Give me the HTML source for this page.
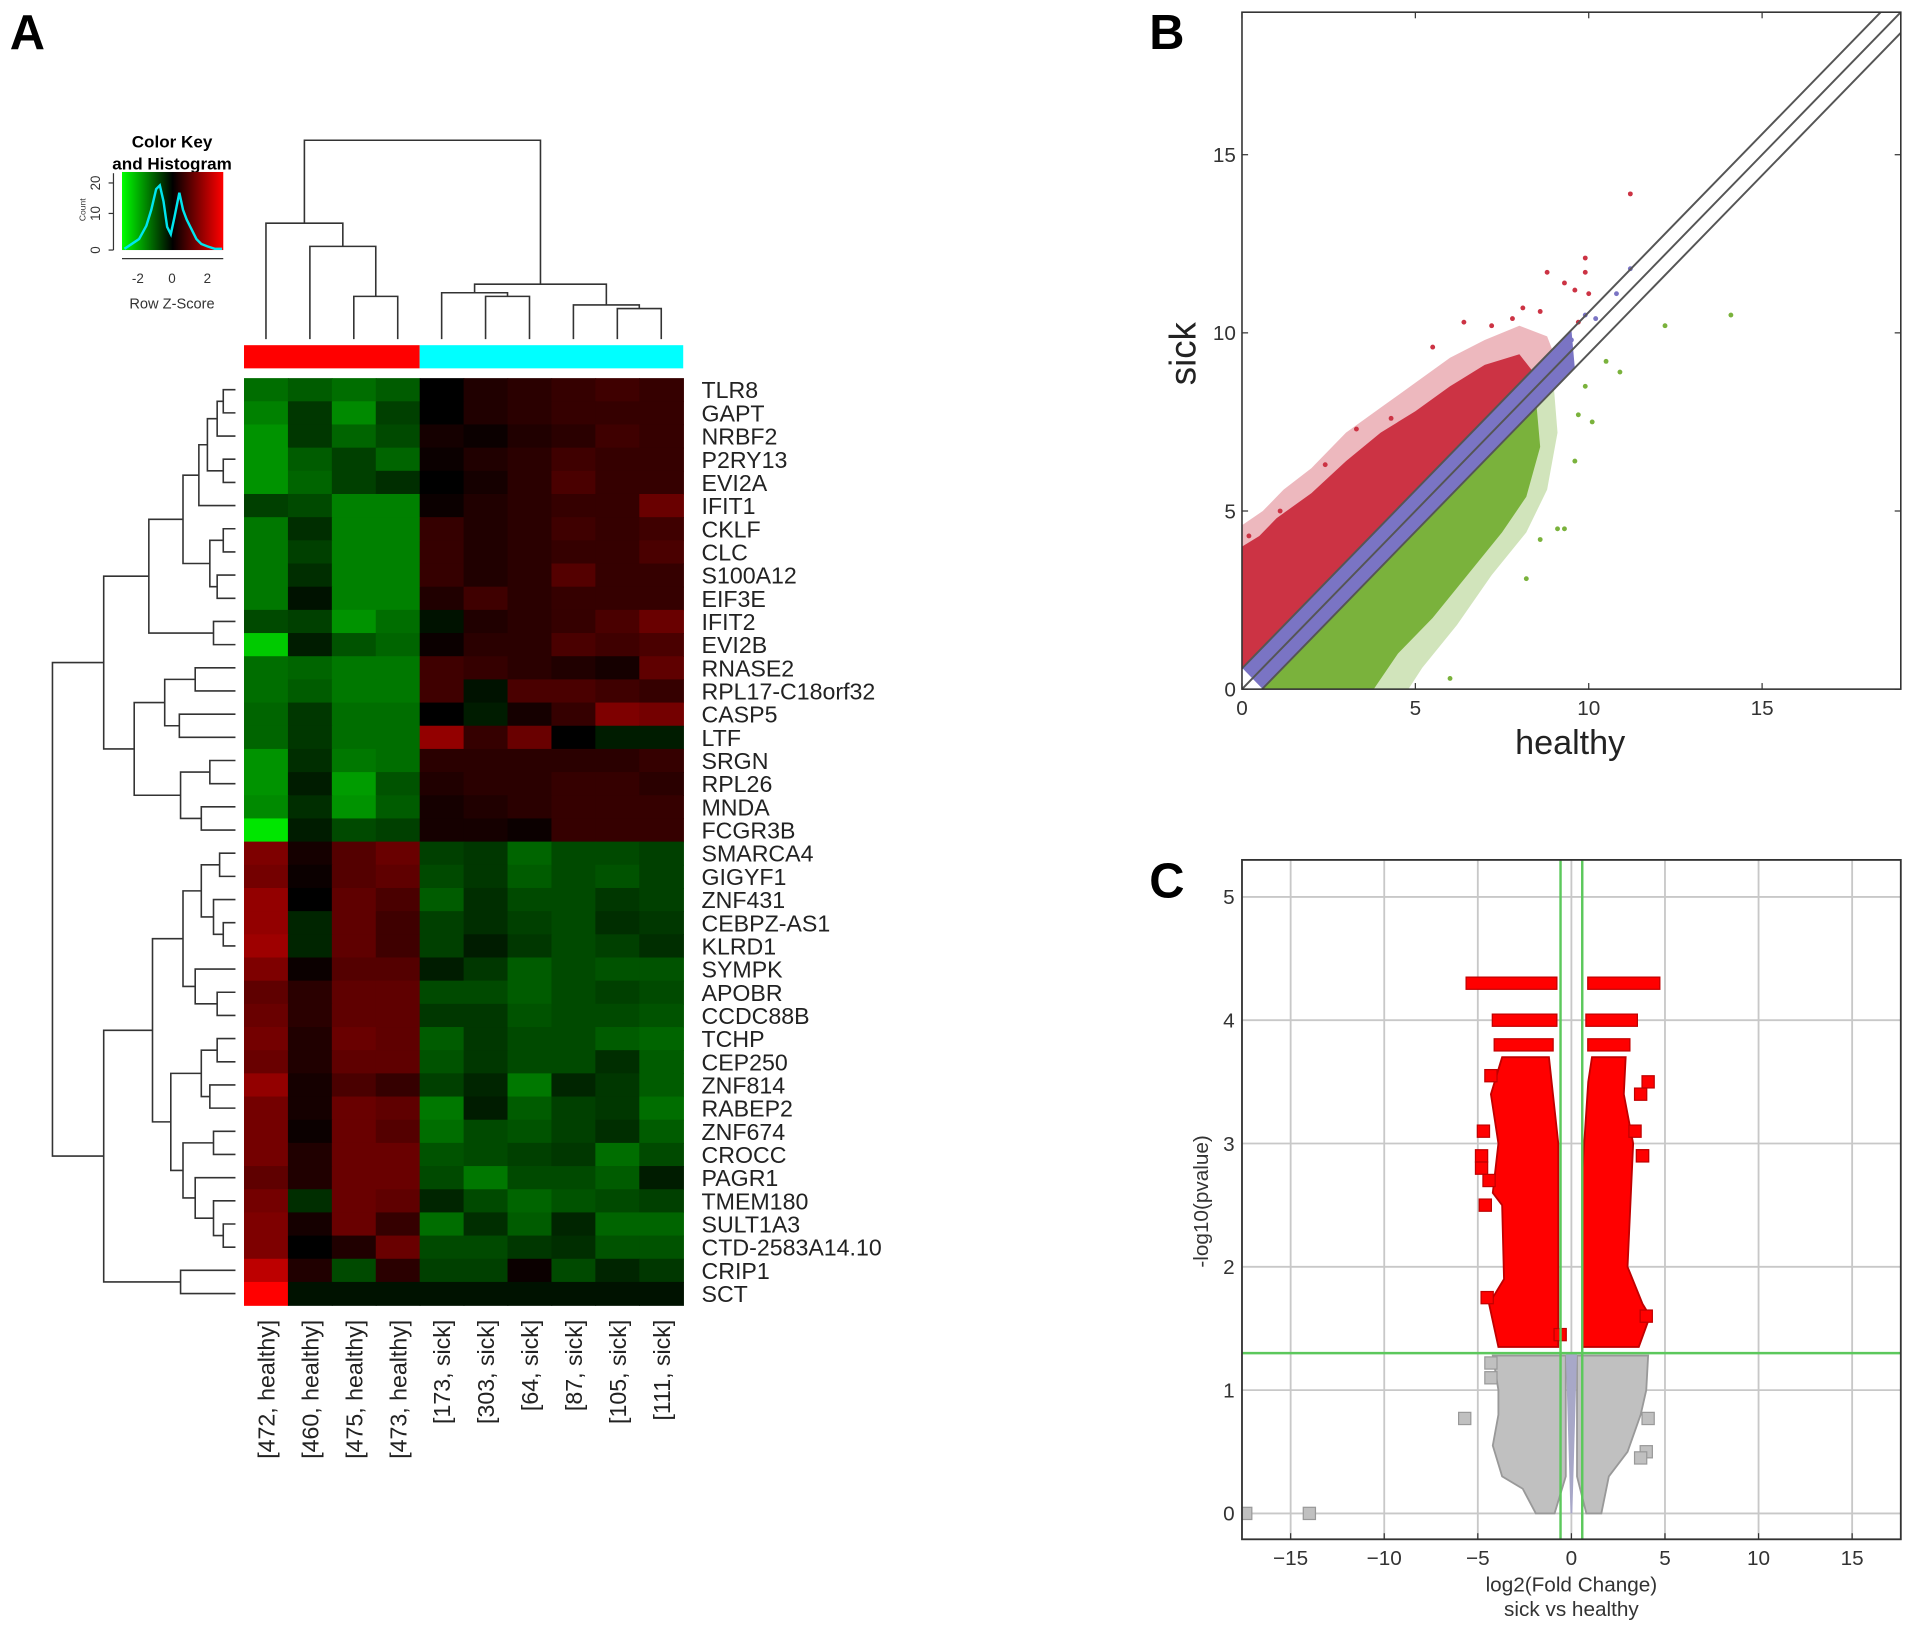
<!DOCTYPE html>
<html><head><meta charset="utf-8">
<style>
html,body{margin:0;padding:0;background:#fff;}
svg{display:block;font-family:"Liberation Sans",sans-serif;}
</style></head>
<body>
<svg id="fig" width="1913" height="1632" viewBox="0 0 1568 1338" preserveAspectRatio="none" xmlns="http://www.w3.org/2000/svg">
<defs>
<linearGradient id="keyGrad" x1="0" x2="1" y1="0" y2="0">
<stop offset="0" stop-color="#00ff00"/><stop offset="0.5" stop-color="#000000"/><stop offset="1" stop-color="#ff0000"/>
</linearGradient>
</defs>
<text x="8" y="40" font-size="40" font-weight="bold">A</text>
<text x="942" y="40" font-size="40" font-weight="bold">B</text>
<text x="942" y="736" font-size="40" font-weight="bold">C</text>

<g id="colorKey">
<text x="141" y="121" font-size="14" font-weight="bold" text-anchor="middle">Color Key</text>
<text x="141" y="139" font-size="14" font-weight="bold" text-anchor="middle">and Histogram</text>
<rect x="100" y="141" width="83" height="64" fill="url(#keyGrad)"/>
<polyline fill="none" stroke="#00e5ee" stroke-width="2" points="102,204 108,200 114,196 120,185 124,172 128,155 131,152 134,165 137,186 140,192 143,178 147,158 150,172 153,180 157,188 161,196 165,200 170,202 176,204 182,204"/>
<line x1="93" y1="142" x2="93" y2="205" stroke="#333" stroke-width="1"/>
<g font-size="11" fill="#333" text-anchor="middle">
<line x1="89" y1="205" x2="93" y2="205" stroke="#333"/><text transform="translate(82,205) rotate(-90)">0</text>
<line x1="89" y1="175" x2="93" y2="175" stroke="#333"/><text transform="translate(82,175) rotate(-90)">10</text>
<line x1="89" y1="150" x2="93" y2="150" stroke="#333"/><text transform="translate(82,150) rotate(-90)">20</text>
<text transform="translate(70,172) rotate(-90)" font-size="7">Count</text>
<line x1="100" y1="212" x2="183" y2="212" stroke="#333"/>
<text x="113" y="232">-2</text><text x="141" y="232">0</text><text x="170" y="232">2</text>
<text x="141" y="253" font-size="12">Row Z-Score</text>
</g>
</g>

<g id="colBar">
<rect x="200" y="283" width="144" height="19" fill="#ff0000"/>
<rect x="344" y="283" width="216" height="19" fill="#00ffff"/>
</g>
<g id="colDend" stroke="#333" stroke-width="1.3" fill="none"></g>
<g id="rowDend" stroke="#333" stroke-width="1.3" fill="none"></g>
<g id="heat"></g>
<g id="rowLabels" font-size="19" fill="#222"></g>
<g id="colLabels" font-size="19" fill="#222"></g>

<g id="panelB"></g>
<g id="panelC"></g>
</svg>

<script>
// ===== Heatmap data =====
const genes = ["TLR8","GAPT","NRBF2","P2RY13","EVI2A","IFIT1","CKLF","CLC","S100A12","EIF3E","IFIT2","EVI2B","RNASE2","RPL17-C18orf32","CASP5","LTF","SRGN","RPL26","MNDA","FCGR3B","SMARCA4","GIGYF1","ZNF431","CEBPZ-AS1","KLRD1","SYMPK","APOBR","CCDC88B","TCHP","CEP250","ZNF814","RABEP2","ZNF674","CROCC","PAGR1","TMEM180","SULT1A3","CTD-2583A14.10","CRIP1","SCT"];
const samples = ["[472, healthy]","[460, healthy]","[475, healthy]","[473, healthy]","[173, sick]","[303, sick]","[64, sick]","[87, sick]","[105, sick]","[111, sick]"];
const zscores = [
[-1.2,-1.0,-1.2,-1.0,0,0.3,0.4,0.5,0.6,0.5],
[-1.4,-0.6,-1.5,-0.7,0,0.3,0.4,0.5,0.5,0.5],
[-1.6,-0.6,-1.1,-0.8,0.2,0.1,0.3,0.4,0.6,0.5],
[-1.6,-1.0,-0.7,-1.1,0.1,0.3,0.4,0.6,0.5,0.5],
[-1.6,-1.1,-0.7,-0.5,0,0.2,0.4,0.7,0.5,0.5],
[-0.7,-0.8,-1.4,-1.4,0.1,0.3,0.4,0.5,0.5,1.0],
[-1.3,-0.5,-1.4,-1.4,0.5,0.3,0.4,0.6,0.5,0.6],
[-1.3,-0.7,-1.4,-1.4,0.5,0.3,0.4,0.5,0.5,0.7],
[-1.3,-0.5,-1.4,-1.4,0.5,0.3,0.4,0.8,0.5,0.5],
[-1.3,-0.2,-1.4,-1.4,0.3,0.6,0.4,0.5,0.5,0.5],
[-0.8,-0.7,-1.6,-1.2,-0.2,0.3,0.4,0.5,0.7,1.0],
[-2.2,-0.3,-0.9,-1.1,0.1,0.4,0.4,0.7,0.6,0.7],
[-1.2,-1.1,-1.3,-1.3,0.6,0.5,0.4,0.3,0.2,0.9],
[-1.2,-1.0,-1.3,-1.3,0.6,-0.2,0.7,0.7,0.6,0.5],
[-1.1,-0.6,-1.2,-1.2,0,-0.3,0.2,0.5,1.2,1.1],
[-1.1,-0.6,-1.2,-1.2,1.4,0.5,1.0,0,-0.3,-0.3],
[-1.6,-0.5,-1.3,-1.2,0.4,0.4,0.4,0.4,0.4,0.5],
[-1.6,-0.3,-1.7,-0.9,0.3,0.4,0.4,0.5,0.5,0.4],
[-1.5,-0.5,-1.6,-1.0,0.2,0.3,0.4,0.5,0.5,0.5],
[-2.5,-0.3,-0.8,-0.7,0.2,0.2,0.1,0.5,0.5,0.5],
[1.2,0.2,0.8,1.0,-0.7,-0.6,-1.1,-0.8,-0.8,-0.7],
[1.1,0.1,0.8,0.9,-0.8,-0.6,-1.0,-0.8,-0.9,-0.7],
[1.4,0.0,0.9,0.7,-1.0,-0.5,-0.8,-0.8,-0.6,-0.7],
[1.4,-0.4,0.9,0.6,-0.7,-0.5,-0.7,-0.8,-0.5,-0.6],
[1.5,-0.4,0.9,0.6,-0.7,-0.3,-0.6,-0.8,-0.7,-0.5],
[1.2,0.1,0.8,0.8,-0.3,-0.6,-1.0,-0.8,-0.9,-0.9],
[0.9,0.4,0.9,0.9,-0.8,-0.8,-1.0,-0.8,-0.7,-0.8],
[1.0,0.4,0.9,0.9,-0.6,-0.6,-0.9,-0.8,-0.8,-0.9],
[1.1,0.3,1.0,0.9,-1.0,-0.6,-0.8,-0.8,-1.0,-1.1],
[1.0,0.3,0.9,0.9,-0.9,-0.6,-0.8,-0.8,-0.5,-1.0],
[1.4,0.2,0.7,0.5,-0.7,-0.4,-1.3,-0.4,-0.6,-1.0],
[1.1,0.2,1.0,0.9,-1.3,-0.3,-1.0,-0.7,-0.6,-1.2],
[1.1,0.1,1.0,0.8,-1.2,-0.8,-0.9,-0.7,-0.5,-1.0],
[1.1,0.3,1.0,1.0,-0.9,-0.8,-0.7,-0.6,-1.2,-0.8],
[0.9,0.3,1.0,1.0,-0.8,-1.3,-0.8,-0.8,-1.0,-0.3],
[1.1,-0.5,1.0,0.9,-0.4,-0.8,-1.1,-0.9,-0.8,-0.7],
[1.2,0.2,1.0,0.5,-1.2,-0.5,-1.0,-0.4,-1.1,-1.1],
[1.2,0.0,0.3,1.0,-0.8,-0.8,-0.6,-0.5,-0.9,-0.9],
[1.8,0.3,-0.8,0.4,-0.7,-0.7,0.1,-0.8,-0.4,-0.6],
[2.8,-0.2,-0.2,-0.2,-0.2,-0.2,-0.2,-0.2,-0.2,-0.2]
];
// dendrogram merge trees: [height, left, right]; leaves are indices
const colTree = [115,[183,0,[202,1,[243,2,3]]],[233,[240,4,[243,5,6]],[250,7,[253,8,9]]]];
const rowTree = [43,
 [85,[122,[150,[163,[170,[178,[183,0,1],2],[183,3,4]],5],[172,[183,6,7],[178,8,9]]],[175,10,11]],
     [110,[135,[160,12,13],[147,14,15]],[148,[172,16,17],[165,18,19]]]],
 [85,[125,[150,[165,[180,20,21],[175,22,[183,23,24]]],[160,25,[178,26,27]]],
          [140,[165,[178,28,29],[172,30,31]],[150,[175,32,33],[160,34,[175,35,[183,36,37]]]]]],
     [148,38,39]]];

// ===== Scatter (panel B) data, in data units =====
const redHalo = [[0,0.6],[0,4.6],[0.6,5.0],[1.2,5.6],[2,6.2],[3,7.2],[4,7.9],[5,8.6],[6,9.3],[7,9.8],[8,10.2],[8.8,9.9],[9.0,9.4]];
const redRegion = [[0,0.6],[0,4.0],[0.5,4.3],[1,4.8],[2,5.5],[3,6.4],[4,7.2],[5,7.8],[6,8.5],[7,9.1],[8,9.4],[8.4,8.9],[7.5,8.1]];
const greenHalo = [[0.6,0],[9.0,8.4],[9.1,7.2],[8.8,5.6],[8.2,4.4],[7.2,3.2],[6.2,1.8],[5.2,0.6],[4.8,0]];
const greenRegion = [[0.6,0],[8.5,7.9],[8.6,6.8],[8.2,5.4],[7.5,4.4],[6.5,3.2],[5.5,2.0],[4.5,1.0],[3.8,0]];
const purpleRegion = [[0,0.6],[9.5,10.1],[9.6,9.0],[0.6,0]];
const redOutX = [11.2,9.9,9.9,8.8,9.3,9.6,10.0,8.6,6.4,5.5,8.1,9.7,0.2,0.1,1.1,2.4,3.3,4.3,7.2,7.8];
const redOutY = [13.9,12.1,11.7,11.7,11.4,11.2,11.1,10.6,10.3,9.6,10.7,10.3,4.3,3.9,5.0,6.3,7.3,7.6,10.2,10.4];
const greenOutX = [12.2,14.1,10.5,10.9,9.3,9.1,8.2,6.0,10.1,9.7,9.9,9.6,8.6];
const greenOutY = [10.2,10.5,9.2,8.9,4.5,4.5,3.1,0.3,7.5,7.7,8.5,6.4,4.2];
const purpleOutX = [11.2,10.8,9.5,10.2,9.9];
const purpleOutY = [11.8,11.1,9.8,10.4,10.5];
const bTicks = [0,5,10,15];
const foldOffset = 0.58;

// ===== Volcano (panel C) data =====
const cXTicks = [-15,-10,-5,0,5,10,15];
const cXTickLabels = ["\u221215","\u221210","\u22125","0","5","10","15"];
const cYTicks = [0,1,2,3,4,5];
const fcCut = 0.58, pCut = 1.3;
const leftRed = [[-3.9,1.35],[-4.4,1.7],[-3.6,1.9],[-3.7,2.5],[-4.2,2.6],[-3.9,3.0],[-4.3,3.4],[-3.7,3.7],[-1.2,3.7],[-0.7,3.0],[-0.7,1.35]];
const rightRed = [[0.6,1.35],[0.6,2.8],[0.9,3.5],[1.1,3.7],[2.9,3.7],[2.8,3.4],[3.3,3.0],[3.0,2.0],[3.8,1.7],[4.2,1.6],[3.6,1.35]];
const barY = [4.3,4.0,3.8,4.3,4.0,3.8];
const barX0 = [-5.3,-3.9,-3.8,1.2,1.1,1.2];
const barX1 = [-1.1,-1.1,-1.3,4.4,3.2,2.8];
const redSqX = [-4.7,-4.8,-4.8,-4.4,-4.6,-4.5,-4.3,4.1,3.4,3.8,3.7,4.0,-0.6,3.8];
const redSqY = [3.1,2.9,2.8,2.7,2.5,1.75,3.55,3.5,3.1,2.9,3.4,1.6,1.45,2.9];
const leftGray = [[-4.2,1.28],[-3.9,1.0],[-3.9,0.8],[-4.2,0.55],[-3.7,0.3],[-2.6,0.2],[-1.9,0.0],[-0.9,0.0],[-0.3,0.3],[-0.3,1.28]];
const rightGray = [[0.3,1.28],[0.3,0.3],[0.8,0.0],[1.6,0.0],[2.0,0.3],[3.0,0.5],[3.7,0.8],[4.0,1.0],[4.1,1.28]];
const graySqX = [-5.7,-14,-17.4,-4.3,4.0,4.1,3.7,-4.3];
const graySqY = [0.77,0,0,1.1,0.5,0.77,0.45,1.22];

const NS = "http://www.w3.org/2000/svg";
function mk(tag, attrs, parent){ const e=document.createElementNS(NS,tag); for(const k in attrs) e.setAttribute(k,attrs[k]); parent.appendChild(e); return e; }

// ----- Heatmap -----
const hmX0=200, hmX1=560, hmY0=310, hmY1=1070;
const cw=(hmX1-hmX0)/samples.length, rh=(hmY1-hmY0)/genes.length;
function colX(j){ return hmX0+cw*j; }
function rowY(i){ return hmY0+rh*i; }
function zColor(z){ if(z<0){ const g=Math.min(255,Math.round(-z*92)); return `rgb(0,${g},0)`; } const r=Math.min(255,Math.round(z*105)); return `rgb(${r},0,0)`; }
const heat=document.getElementById('heat');
zscores.forEach((row,i)=>row.forEach((z,j)=>{
  const r=mk('rect',{x:colX(j),y:rowY(i),width:cw+0.6,height:rh+0.6,fill:zColor(z)},heat);
  
  
}));
const rl=document.getElementById('rowLabels');
genes.forEach((g,i)=>{ const t=mk('text',{x:575,y:rowY(i)+rh/2+7},rl); t.textContent=g;
  
   });
const cl=document.getElementById('colLabels');
samples.forEach((s,j)=>{ const t=mk('text',{transform:`translate(${colX(j)+cw/2+7},1082) rotate(-90)`,'text-anchor':'end'},cl); t.textContent=s;
  
   });

// ----- Dendrograms -----
function drawCol(node, g){
  if(typeof node==='number') return {x:colX(node)+cw/2, y:278};
  const a=drawCol(node[1],g), b=drawCol(node[2],g), h=node[0];
  const p=mk('path',{d:`M${a.x},${a.y}V${h}H${b.x}V${b.y}`},g);
  
  
  return {x:(a.x+b.x)/2, y:h};
}
function drawRow(node, g){
  if(typeof node==='number') return {y:rowY(node)+rh/2, x:193};
  const a=drawRow(node[1],g), b=drawRow(node[2],g), h=node[0];
  const p=mk('path',{d:`M${a.x},${a.y}H${h}V${b.y}H${b.x}`},g);
  
  
  return {y:(a.y+b.y)/2, x:h};
}
drawCol(colTree, document.getElementById('colDend'));
drawRow(rowTree, document.getElementById('rowDend'));

// ----- Panel B -----
const B={x0:1018,x1:1558,y0:10,y1:565,max:19};
function bx(v){ return B.x0+(B.x1-B.x0)*v/B.max; }
function by(v){ return B.y1-(B.y1-B.y0)*v/B.max; }
const pb=document.getElementById('panelB');
function poly(pts,fx,fy,attrs,parent,name){ const p=mk('polygon',Object.assign({points:pts.map(q=>fx(q[0])+','+fy(q[1])).join(' ')},attrs),parent);   return p; }
const clipB=mk('clipPath',{id:'clipB'},document.querySelector('defs'));
mk('rect',{x:B.x0,y:B.y0,width:B.x1-B.x0,height:B.y1-B.y0},clipB);
const bg=mk('g',{'clip-path':'url(#clipB)'},pb);
poly(redHalo,bx,by,{fill:'#cc3344','fill-opacity':0.35},bg,'up-regulated-sparse');
poly(greenHalo,bx,by,{fill:'#7ab23c','fill-opacity':0.35},bg,'down-regulated-sparse');
poly(redRegion,bx,by,{fill:'#cc3344'},bg,'up-regulated-cloud');
poly(greenRegion,bx,by,{fill:'#7ab23c'},bg,'down-regulated-cloud');
poly(purpleRegion,bx,by,{fill:'#7a74c4'},bg,'unchanged-band');
function dots(xs,ys,col,name,parent){ xs.forEach((x,i)=>{ const c=mk('circle',{cx:bx(x),cy:by(ys[i]),r:2,fill:col},parent);   }); }
dots(redOutX,redOutY,'#cc3344','up-point',bg);
dots(greenOutX,greenOutY,'#7ab23c','down-point',bg);
dots(purpleOutX,purpleOutY,'#7a74c4','unchanged-point',bg);
[0,foldOffset,-foldOffset].forEach(o=>{ const l=mk('line',{x1:bx(0),y1:by(o),x2:bx(B.max),y2:by(B.max+o),stroke:'#555','stroke-width':1.6},bg);
  
   });
const bframe=mk('rect',{x:B.x0,y:B.y0,width:B.x1-B.x0,height:B.y1-B.y0,fill:'none',stroke:'#333','stroke-width':1.3},pb);
 
bTicks.forEach(t=>{
  mk('line',{x1:bx(t),y1:B.y1,x2:bx(t),y2:B.y1-5,stroke:'#333'},pb);
  mk('line',{x1:bx(t),y1:B.y0,x2:bx(t),y2:B.y0+5,stroke:'#333'},pb);
  mk('line',{x1:B.x0,y1:by(t),x2:B.x0+5,y2:by(t),stroke:'#333'},pb);
  mk('line',{x1:B.x1,y1:by(t),x2:B.x1-5,y2:by(t),stroke:'#333'},pb);
  const tx=mk('text',{x:bx(t),y:B.y1+21,'font-size':17,'text-anchor':'middle',fill:'#333'},pb); tx.textContent=t;
   
  const ty=mk('text',{x:B.x0-5,y:by(t)+6,'font-size':17,'text-anchor':'end',fill:'#333'},pb); ty.textContent=t;
   
});
const bxl=mk('text',{x:1287,y:618,'font-size':28,'text-anchor':'middle',fill:'#222'},pb); bxl.textContent='healthy';
 
const byl=mk('text',{transform:'translate(980,290) rotate(-90)','font-size':30,'text-anchor':'middle',fill:'#222'},pb); byl.textContent='sick';
 

// ----- Panel C -----
const C={x0:1018,x1:1558,y0:705,y1:1262,xmin:-17.6,xmax:17.6,ymin:-0.21,ymax:5.3};
function cx(v){ return C.x0+(C.x1-C.x0)*(v-C.xmin)/(C.xmax-C.xmin); }
function cy(v){ return C.y1-(C.y1-C.y0)*(v-C.ymin)/(C.ymax-C.ymin); }
const pc=document.getElementById('panelC');
cXTicks.forEach((t,i)=>{
  const g=mk('line',{x1:cx(t),y1:C.y0,x2:cx(t),y2:C.y1,stroke:'#c8c8c8','stroke-width':1.5},pc);
   
  mk('line',{x1:cx(t),y1:C.y1,x2:cx(t),y2:C.y1-5,stroke:'#333'},pc);
  const tx=mk('text',{x:cx(t),y:C.y1+21,'font-size':17,'text-anchor':'middle',fill:'#333'},pc); tx.textContent=cXTickLabels[i];
   
});
cYTicks.forEach(t=>{
  const g=mk('line',{x1:C.x0,y1:cy(t),x2:C.x1,y2:cy(t),stroke:'#c8c8c8','stroke-width':1.5},pc);
   
  const ty=mk('text',{x:C.x0-6,y:cy(t)+6,'font-size':17,'text-anchor':'end',fill:'#333'},pc); ty.textContent=t;
   
});
const clipC=mk('clipPath',{id:'clipC'},document.querySelector('defs'));
mk('rect',{x:C.x0,y:C.y0,width:C.x1-C.x0,height:C.y1-C.y0},clipC);
const cg=mk('g',{'clip-path':'url(#clipC)'},pc);
const sq=10;
[leftGray,rightGray].forEach(p=>poly(p,cx,cy,{fill:'#c0c0c0',stroke:'#999','stroke-width':1.5},cg,'not-significant-cluster'));
function squares(xs,ys,fill,stroke,name){ xs.forEach((x,i)=>{ const r=mk('rect',{x:cx(x)-sq/2,y:cy(ys[i])-sq/2,width:sq,height:sq,fill:fill,stroke:stroke,'stroke-width':1},cg);   }); }
squares(graySqX,graySqY,'#c0c0c0','#999','not-significant-point');
[leftRed,rightRed].forEach(p=>poly(p,cx,cy,{fill:'#ff0000',stroke:'#c00000','stroke-width':1.5},cg,'significant-cluster'));
barY.forEach((y,i)=>{ const r=mk('rect',{x:cx(barX0[i])-sq/2,y:cy(y)-sq/2,width:cx(barX1[i])-cx(barX0[i])+sq,height:sq,fill:'#ff0000',stroke:'#c00000','stroke-width':1},cg);
    });
squares(redSqX,redSqY,'#ff0000','#c00000','significant-point');
const sv=mk('polygon',{points:`${cx(-0.3)},${cy(1.3)} ${cx(0.3)},${cy(1.3)} ${cx(0.05)},${cy(0)} ${cx(-0.05)},${cy(0)}`,fill:'#a8a8c8'},cg);
 
[-fcCut,fcCut].forEach(v=>{ const l=mk('line',{x1:cx(v),y1:C.y0,x2:cx(v),y2:C.y1,stroke:'#5cc85c','stroke-width':2},cg);
    });
const hl=mk('line',{x1:C.x0,y1:cy(pCut),x2:C.x1,y2:cy(pCut),stroke:'#5cc85c','stroke-width':2},cg);
 
const cframe=mk('rect',{x:C.x0,y:C.y0,width:C.x1-C.x0,height:C.y1-C.y0,fill:'none',stroke:'#333','stroke-width':1.5},pc);
 
const cxl=mk('text',{x:1288,y:1305,'font-size':17,'text-anchor':'middle',fill:'#333'},pc); cxl.textContent='log2(Fold Change)';
 
const cxl2=mk('text',{x:1288,y:1325,'font-size':17,'text-anchor':'middle',fill:'#333'},pc); cxl2.textContent='sick vs healthy';
 
const cyl=mk('text',{transform:'translate(990,985) rotate(-90)','font-size':17,'text-anchor':'middle',fill:'#333'},pc); cyl.textContent='-log10(pvalue)';
 
</script>
</body></html>
